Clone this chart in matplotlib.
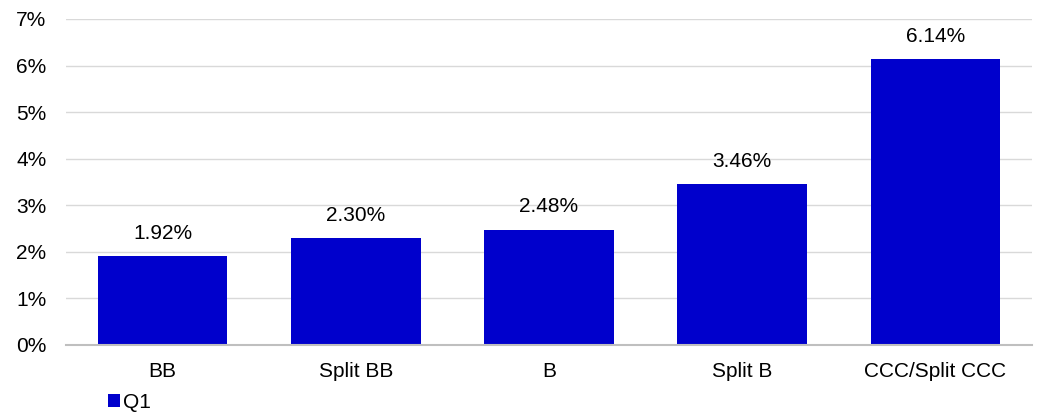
import matplotlib
matplotlib.use("Agg")
import matplotlib.pyplot as plt
from matplotlib.ticker import FuncFormatter
from matplotlib.patches import Patch

categories = ["BB", "Split BB", "B", "Split B", "CCC/Split CCC"]
q1_values = [1.92, 2.30, 2.48, 3.46, 6.14]
series_name = "Q1"
yticks = [0, 1, 2, 3, 4, 5, 6, 7]

plt.rcParams['font.family'] = ['Liberation Sans', 'DejaVu Sans']

fig = plt.figure(figsize=(10.37, 4.12), dpi=100)
ax = fig.add_axes([66/1037, 1-345/412, (1032-66)/1037, (345-19)/412])

bar_color = "#0000CC"
FS = 15
x = list(range(len(categories)))
bars = ax.bar(x, q1_values, width=0.67, color=bar_color, zorder=3)
for xi, v in zip(x, q1_values):
    ax.text(xi, v + 0.28, f"{v:.2f}%", ha="center", va="bottom", fontsize=FS, color="#000000")

ax.set_xlim(-0.5, len(categories) - 0.5)
ax.set_ylim(0, 7)
ax.set_yticks(yticks)
ax.yaxis.set_major_formatter(FuncFormatter(lambda v, p: f"{int(v)}%"))
ax.set_xticks(x)
ax.set_xticklabels(categories)
ax.tick_params(axis="both", length=0, labelsize=FS, colors="#000000")
ax.tick_params(axis="y", pad=14)
ax.tick_params(axis="x", pad=12)
ax.grid(axis="y", color="#D9D9D9", linewidth=1, zorder=0)
for s in ["top", "right", "left"]:
    ax.spines[s].set_visible(False)
ax.spines["bottom"].set_color("#BFBFBF")
ax.spines["bottom"].set_linewidth(1.5)
ax.spines["bottom"].set_zorder(4)

handle = Patch(facecolor=bar_color, label=series_name)
fig.legend(handles=[handle], loc="lower left", bbox_to_anchor=(93/1037, -0.035),
           frameon=False, fontsize=FS, handlelength=0.6, handleheight=0.6,
           handletextpad=0.15, borderpad=0.2)

fig.savefig("out.png", dpi=100)
